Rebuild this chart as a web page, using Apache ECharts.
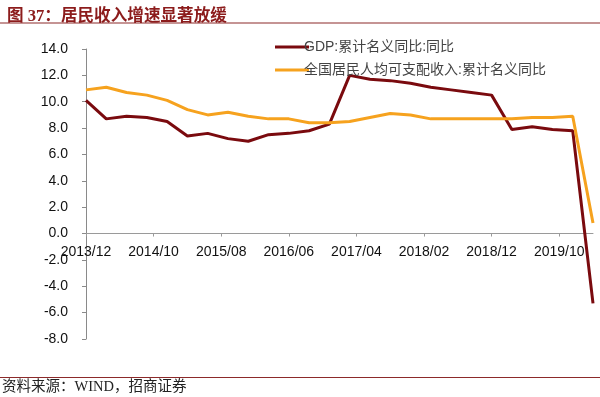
<!DOCTYPE html>
<html>
<head>
<meta charset="utf-8">
<script src="https://cdn.jsdelivr.net/npm/echarts@6/dist/echarts.min.js"></script>
<style>html,body{margin:0;padding:0;background:#fff}#c{width:600px;height:397px}</style>
</head>
<body>
<div id="c"></div>
<script>
const quarters = ["2013/12","2014/03","2014/06","2014/09","2014/12","2015/03","2015/06","2015/09","2015/12","2016/03","2016/06","2016/09","2016/12","2017/03","2017/06","2017/09","2017/12","2018/03","2018/06","2018/09","2018/12","2019/03","2019/06","2019/09","2019/12","2020/03"];
const gdp = [10.1,8.7,8.9,8.8,8.5,7.4,7.6,7.2,7.0,7.5,7.6,7.8,8.3,12.0,11.7,11.6,11.4,11.1,10.9,10.7,10.5,7.9,8.1,7.9,7.8,-5.3];
const income = [10.9,11.1,10.7,10.5,10.1,9.4,9.0,9.2,8.9,8.7,8.7,8.4,8.4,8.5,8.8,9.1,9.0,8.7,8.7,8.7,8.7,8.7,8.8,8.8,8.9,0.8];
const seriesNames = ["GDP:累计名义同比:同比","全国居民人均可支配收入:累计名义同比"];
const titleText = "图 37：居民收入增速显著放缓";
const sourceText = "资料来源：WIND，招商证券";

// monthly category axis 2013/12 .. 2020/03
const months = [];
for (let y = 2013, m = 12; ; ) {
  const s = y + "/" + String(m).padStart(2, "0");
  months.push(s);
  if (s === "2020/03") break;
  m++; if (m > 12) { m = 1; y++; }
}
const toPairs = vals => quarters.map((q, i) => [months.indexOf(q), vals[i]]);

const yMin = -8, yMax = 14;
const gridTop = 49, gridBottom = 58, H = 397;
const plotH = H - gridTop - gridBottom;
const zeroOffset = -plotH * (0 - yMin) / (yMax - yMin); // move x axis up to the zero line

const chart = echarts.init(document.getElementById('c'), null, {renderer: 'canvas'});
const font = "'Liberation Sans', Arial, 'Noto Sans CJK SC', sans-serif";
chart.setOption({
  animation: false,
  backgroundColor: '#fff',
  grid: {left: 86, right: 7, top: gridTop, bottom: gridBottom, containLabel: false},
  title: {
    text: titleText, left: 2, top: 3,
    textStyle: {fontFamily: "'Liberation Serif', 'Noto Sans CJK SC', serif", fontSize: 16.6, fontWeight: 'bold', color: '#8C1C1C'}
  },
  graphic: [
    {type: 'line', shape: {x1: 0, y1: 23, x2: 600, y2: 23}, style: {stroke: '#8C2A2A', lineWidth: 1.2}},
    {type: 'line', shape: {x1: 0, y1: 377.5, x2: 600, y2: 377.5}, style: {stroke: '#8C2A2A', lineWidth: 1.2}},
    {type: 'text', left: 2, top: 380, style: {text: sourceText, fontSize: 14.5, fill: '#222', fontFamily: "'Liberation Serif', 'Noto Sans CJK SC', serif"}}
  ],
  legend: {
    orient: 'vertical', left: 270, top: 35, itemGap: 9,
    icon: 'rect', itemWidth: 34, itemHeight: 3,
    textStyle: {fontSize: 14, color: '#444', fontFamily: font, padding: [0,0,0,-10]},
    data: seriesNames
  },
  xAxis: {
    type: 'category', data: months, boundaryGap: false,
    offset: zeroOffset,
    axisLine: {onZero: false, lineStyle: {color: '#9a9a9a', width: 1}},
    axisTick: {show: true, interval: 9, length: 3, inside: false, lineStyle: {color: '#9a9a9a'}},
    axisLabel: {interval: 9, margin: 12, fontSize: 14, color: '#111', fontFamily: font},
    splitLine: {show: false}
  },
  yAxis: {
    type: 'value', min: yMin, max: yMax, interval: 2,
    axisLine: {show: true, lineStyle: {color: '#8a8a8a'}},
    axisTick: {show: true, length: 4, lineStyle: {color: '#8a8a8a'}},
    axisLabel: {fontSize: 14, color: '#111', margin: 18, fontFamily: font, formatter: v => v.toFixed(1)},
    splitLine: {show: false}
  },
  series: [
    {name: seriesNames[0], type: 'line', data: toPairs(gdp), showSymbol: false, symbol: 'none',
     lineStyle: {color: '#7A0A0E', width: 3}, itemStyle: {color: '#7A0A0E'}},
    {name: seriesNames[1], type: 'line', data: toPairs(income), showSymbol: false, symbol: 'none',
     lineStyle: {color: '#F6A21E', width: 3}, itemStyle: {color: '#F6A21E'}}
  ]
});
</script>
</body>
</html>
